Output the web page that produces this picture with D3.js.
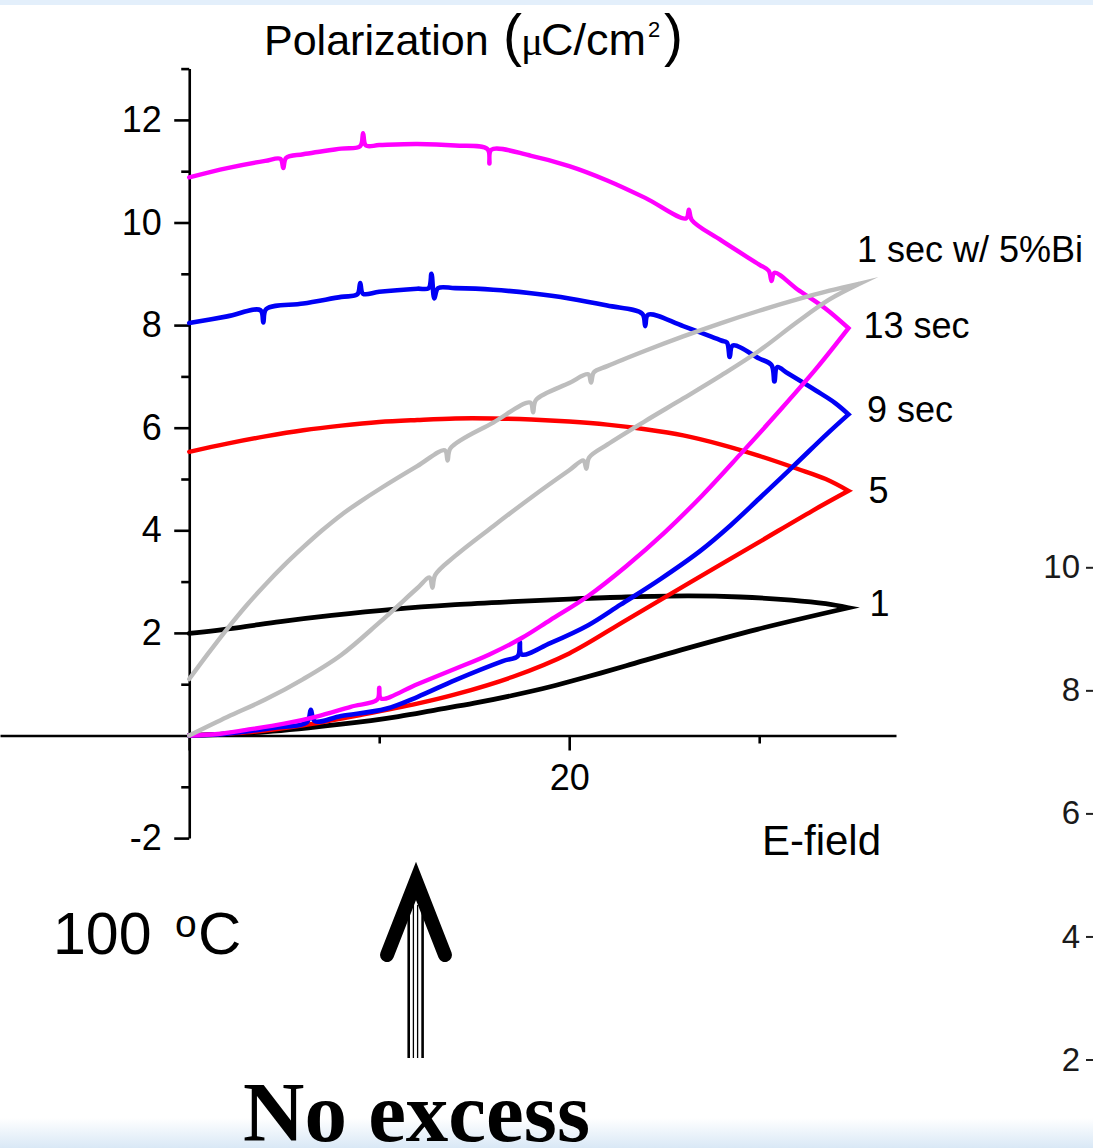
<!DOCTYPE html>
<html>
<head>
<meta charset="utf-8">
<script src="https://cdn.jsdelivr.net/npm/d3@7"></script>
<style>
  html, body { margin: 0; padding: 0; background: #ffffff; overflow: hidden; }
  svg { display: block; }
</style>
</head>
<body>
<script>
// ---- P–E loop data (E-field, polarization µC/cm²) ----
// Each loop: rising branch from the origin to the field maximum,
// and the return branch back to zero field (listed by increasing E).
const loop1Rise = [[0,0],[4,0.07],[8,0.22],[11,0.37],[13,0.5],[15,0.63],[17,0.78],[19,0.95],[21,1.15],[23,1.36],[25.9,1.67],[29.9,2.07],[34.7,2.49]];
const loop1Return = [[0,1.99],[2.5,2.1],[4.8,2.22],[7.5,2.34],[10.7,2.46],[14,2.55],[17,2.61],[20,2.66],[23,2.7],[26.3,2.72],[29,2.7],[31.7,2.64],[33.5,2.57],[34.7,2.49]];

const loop5Rise = [[0,0],[3,0.06],[6,0.2],[9,0.4],[12,0.62],[14,0.8],[17,1.14],[20,1.6],[23,2.25],[26.3,2.97],[29.9,3.75],[32.8,4.38],[34.7,4.77]];
const loop5Return = [[0,5.53],[2,5.69],[4,5.83],[6,5.95],[8,6.04],[10,6.11],[12,6.15],[14,6.18],[16,6.18],[18,6.16],[20,6.12],[22,6.06],[24,5.97],[26,5.85],[28,5.67],[30,5.45],[32,5.2],[33.5,5.0],[34.7,4.77]];

const loop9Rise = [[0,0],[1.5,0.02],[3,0.08],[4.5,0.15],[6.2,0.26],[6.4,0.5],[6.6,0.28],[8,0.38],[10.35,0.52],[12,0.75],[14,1.08],[16.5,1.45],[17.3,1.55],[17.4,1.82],[17.5,1.58],[19,1.8],[21,2.15],[22.7,2.55],[24.8,3.05],[26.9,3.6],[28.5,4.1],[30,4.62],[31.8,5.25],[33.6,5.89],[34.7,6.26]];
const loop9Return = [[0,8.04],[2,8.17],[3.75,8.29],[3.9,8.05],[4.05,8.31],[6,8.42],[8,8.55],[8.85,8.6],[9.0,8.82],[9.15,8.61],[10,8.65],[12,8.71],[12.6,8.72],[12.75,9.0],[12.9,8.52],[13.1,8.72],[14,8.72],[16,8.69],[18,8.62],[20,8.52],[22,8.38],[23.85,8.22],[24,7.98],[24.15,8.2],[26,7.98],[28,7.7],[28.3,7.66],[28.45,7.38],[28.6,7.6],[30,7.35],[30.65,7.22],[30.8,6.9],[30.95,7.18],[31.5,7.06],[33,6.72],[34,6.48],[34.7,6.26]];

const loop13Rise = [[0,0],[1.5,0.03],[3,0.11],[5,0.23],[6.7,0.37],[8.5,0.56],[9.9,0.7],[10.0,0.93],[10.1,0.72],[12,1.0],[14,1.3],[15.8,1.58],[17.5,1.9],[19,2.25],[21,2.72],[23,3.3],[25,3.95],[27,4.68],[29,5.48],[31,6.3],[33,7.15],[34.7,7.94]];
const loop13Return = [[0,10.88],[2,11.06],[4,11.2],[4.8,11.24],[4.95,11.06],[5.1,11.26],[6,11.33],[8,11.44],[9.0,11.49],[9.15,11.74],[9.3,11.5],[10,11.51],[12,11.53],[14,11.5],[15.7,11.43],[15.8,11.15],[15.9,11.42],[18,11.3],[20,11.1],[22,10.82],[24,10.48],[26.15,10.08],[26.3,10.25],[26.45,10.05],[28,9.65],[30,9.18],[30.5,9.06],[30.65,8.86],[30.8,9.02],[32,8.7],[33.5,8.32],[34.7,7.94]];

const loopBiRise = [[0,0],[2,0.36],[4,0.7],[6,1.1],[8,1.57],[10,2.2],[12,2.87],[12.65,3.08],[12.8,2.88],[12.95,3.13],[14,3.5],[16,4.08],[18,4.64],[20,5.17],[20.75,5.36],[20.9,5.2],[21.05,5.42],[22,5.67],[24,6.13],[26,6.57],[28,7.02],[30,7.5],[32,8.06],[33.7,8.5],[35.3,8.81]];
const loopBiReturn = [[0,1.1],[1,1.6],[2,2.08],[3,2.53],[4,2.94],[5,3.32],[6,3.67],[7,4.0],[8,4.3],[9,4.56],[10,4.8],[12,5.25],[13.45,5.56],[13.6,5.36],[13.75,5.6],[16,6.1],[17.95,6.49],[18.1,6.3],[18.25,6.54],[20,6.87],[21,7.04],[21.15,6.88],[21.3,7.08],[22,7.2],[24,7.5],[26,7.78],[28,8.04],[30,8.28],[32,8.5],[33.7,8.67],[35.3,8.81]];

const loopNames = ['1', '5', '9 sec', '13 sec', '1 sec w/ 5%Bi'];

// Axis ticks
const yMajorTicks = [-2, 2, 4, 6, 8, 10, 12];
const yMinorTicks = [-1, 1, 3, 5, 7, 9, 11, 13];
const xMajorTicks = [0, 20];
const xMinorTicks = [10, 30];
const sideTicks = [2, 4, 6, 8, 10];

// ---- series table built from the arrays above ----
const series = [
  { name: loopNames[0], rise: loop1Rise,  ret: loop1Return },
  { name: loopNames[1], rise: loop5Rise,  ret: loop5Return },
  { name: loopNames[2], rise: loop9Rise,  ret: loop9Return },
  { name: loopNames[3], rise: loop13Rise, ret: loop13Return },
  { name: loopNames[4], rise: loopBiRise, ret: loopBiReturn }
];
// look of each loop and where its label sits relative to the loop tip
const looks = {
  '1':             { color: '#000000', width: 4.8, lx: 21,   ly: 8.7 },
  '5':             { color: '#ff0000', width: 4.4, lx: 20,   ly: 12.3 },
  '9 sec':         { color: '#0000f5', width: 4.6, lx: 18.5, ly: 7.2 },
  '13 sec':        { color: '#ff00ff', width: 4.4, lx: 15,   ly: 9.7 },
  '1 sec w/ 5%Bi': { color: '#bdbdbd', width: 4.4, lx: -3,   ly: -21.3 }
};

const W = 1093, H = 1148;
const SANS = "'Liberation Sans', Arial, Helvetica, sans-serif";
const SERIF = "'Liberation Serif', 'Times New Roman', serif";

const svg = d3.select('body').append('svg')
  .attr('width', W).attr('height', H)
  .attr('viewBox', `0 0 ${W} ${H}`);

// slide backdrop
const defs = svg.append('defs');
const grad = defs.append('linearGradient').attr('id', 'slideFoot')
  .attr('x1', 0).attr('y1', 0).attr('x2', 0).attr('y2', 1);
grad.append('stop').attr('offset', '0%').attr('stop-color', '#ffffff');
grad.append('stop').attr('offset', '100%').attr('stop-color', '#d9e8f6');
svg.append('rect').attr('x', 0).attr('y', 0).attr('width', W).attr('height', H).attr('fill', '#ffffff');
svg.append('rect').attr('x', 0).attr('y', 0).attr('width', W).attr('height', 5).attr('fill', '#e3effb');
svg.append('rect').attr('x', 0).attr('y', 1118).attr('width', W).attr('height', 30).attr('fill', 'url(#slideFoot)');

// ---- scales ----
const x = d3.scaleLinear().domain([-9.96, 37.2]).range([0, 896]);
const y = d3.scaleLinear().domain([-2, 13]).range([838.1, 68.6]);

function styleAxis(g, size) {
  g.attr('font-family', SANS).attr('font-size', size);
  g.selectAll('line').attr('stroke', '#000').attr('stroke-width', 2.6);
  g.selectAll('.domain').attr('stroke', '#000').attr('stroke-width', 2.6);
  g.selectAll('text').attr('fill', '#000');
}

// x axis through P = 0
const gx = svg.append('g').attr('transform', `translate(0,${y(0)})`)
  .call(d3.axisBottom(x).tickValues(xMajorTicks).tickSize(15).tickSizeOuter(0)
    .tickPadding(14).tickFormat(d => d === 0 ? '' : String(d)));
styleAxis(gx, 36);
const gxm = svg.append('g').attr('transform', `translate(0,${y(0)})`)
  .call(d3.axisBottom(x).tickValues(xMinorTicks).tickSize(8).tickFormat(''));
gxm.select('.domain').remove();
styleAxis(gxm, 36);

// y axis at E = 0 (plain hyphen for negative labels)
const gy = svg.append('g').attr('transform', `translate(${x(0)},0)`)
  .call(d3.axisLeft(y).tickValues(yMajorTicks).tickSize(15).tickSizeOuter(0)
    .tickPadding(12.5).tickFormat(d => String(d)));
styleAxis(gy, 36);
const gym = svg.append('g').attr('transform', `translate(${x(0)},0)`)
  .call(d3.axisLeft(y).tickValues(yMinorTicks).tickSize(8).tickFormat(''));
gym.select('.domain').remove();
styleAxis(gym, 36);

// ---- loops ----
const line = d3.line().x(d => x(d[0])).y(d => y(d[1])).curve(d3.curveCatmullRom.alpha(0.5));
const loopG = svg.append('g');
series.forEach(s => {
  const lk = looks[s.name];
  const back = s.ret.slice().reverse();
  const dPath = line(s.rise) + line(back).replace(/^M[^A-Za-z]*/, '');
  loopG.append('path')
    .attr('d', dPath)
    .attr('fill', 'none')
    .attr('stroke', lk.color)
    .attr('stroke-width', lk.width)
    .attr('stroke-linejoin', 'miter')
    .attr('stroke-miterlimit', 10)
    .attr('stroke-linecap', 'round');
});

// loop labels next to each tip
series.forEach(s => {
  const lk = looks[s.name];
  const tip = s.rise[s.rise.length - 1];
  svg.append('text')
    .attr('x', x(tip[0]) + lk.lx)
    .attr('y', y(tip[1]) + lk.ly)
    .attr('font-family', SANS).attr('font-size', 36).attr('fill', '#000')
    .text(s.name);
});

// axis titles
const title = svg.append('text').attr('y', 55).attr('font-family', SANS).attr('fill', '#000');
title.append('tspan').attr('x', 264).attr('font-size', 43).text('Polarization');
title.append('tspan').attr('x', 503).attr('font-size', 57).text('(');
title.append('tspan').attr('x', 521).attr('font-size', 41).attr('font-family', SERIF).text('\u03bc');
title.append('tspan').attr('x', 541).attr('font-size', 45).text('C/cm');
title.append('tspan').attr('x', 648).attr('y', 37).attr('font-size', 22).text('2');
title.append('tspan').attr('x', 664).attr('y', 55).attr('font-size', 57).text(')');

svg.append('text').attr('x', 762).attr('y', 855)
  .attr('font-family', SANS).attr('font-size', 42).attr('fill', '#000')
  .text('E-field');

// temperature note
const temp = svg.append('text').attr('font-family', SANS).attr('fill', '#000');
temp.append('tspan').attr('x', 53).attr('y', 954).attr('font-size', 59).text('100');
temp.append('tspan').attr('x', 175).attr('y', 937).attr('font-size', 39).text('o');
temp.append('tspan').attr('x', 198).attr('y', 954).attr('font-size', 60).text('C');

// upward arrow
const arrow = svg.append('g');
[[408.7, 2.6], [413.4, 1.3], [417.6, 1.3], [422.6, 2.6]].forEach(([ax, w]) => {
  arrow.append('line').attr('x1', ax).attr('x2', ax).attr('y1', 905).attr('y2', 1058)
    .attr('stroke', '#000').attr('stroke-width', w);
});
arrow.append('path')
  .attr('d', 'M387,955 L416,881 L445,955')
  .attr('fill', 'none').attr('stroke', '#000').attr('stroke-width', 14)
  .attr('stroke-linecap', 'round').attr('stroke-linejoin', 'miter').attr('stroke-miterlimit', 10);

svg.append('text').attr('x', 243).attr('y', 1141)
  .attr('font-family', SERIF).attr('font-weight', 'bold').attr('font-size', 85).attr('fill', '#000')
  .text('No excess');

// neighbouring panel's axis, cut by the right edge
const ySide = d3.scaleLinear().domain([2, 10]).range([1059.5, 567.3]);
const gs = svg.append('g').attr('transform', 'translate(1100,0)')
  .call(d3.axisLeft(ySide).tickValues(sideTicks).tickSize(14).tickPadding(6));
gs.select('.domain').remove();
gs.attr('font-family', SANS).attr('font-size', 33);
gs.selectAll('line').attr('stroke', '#222').attr('stroke-width', 2);
gs.selectAll('text').attr('fill', '#1a1a1a');
</script>
</body>
</html>
